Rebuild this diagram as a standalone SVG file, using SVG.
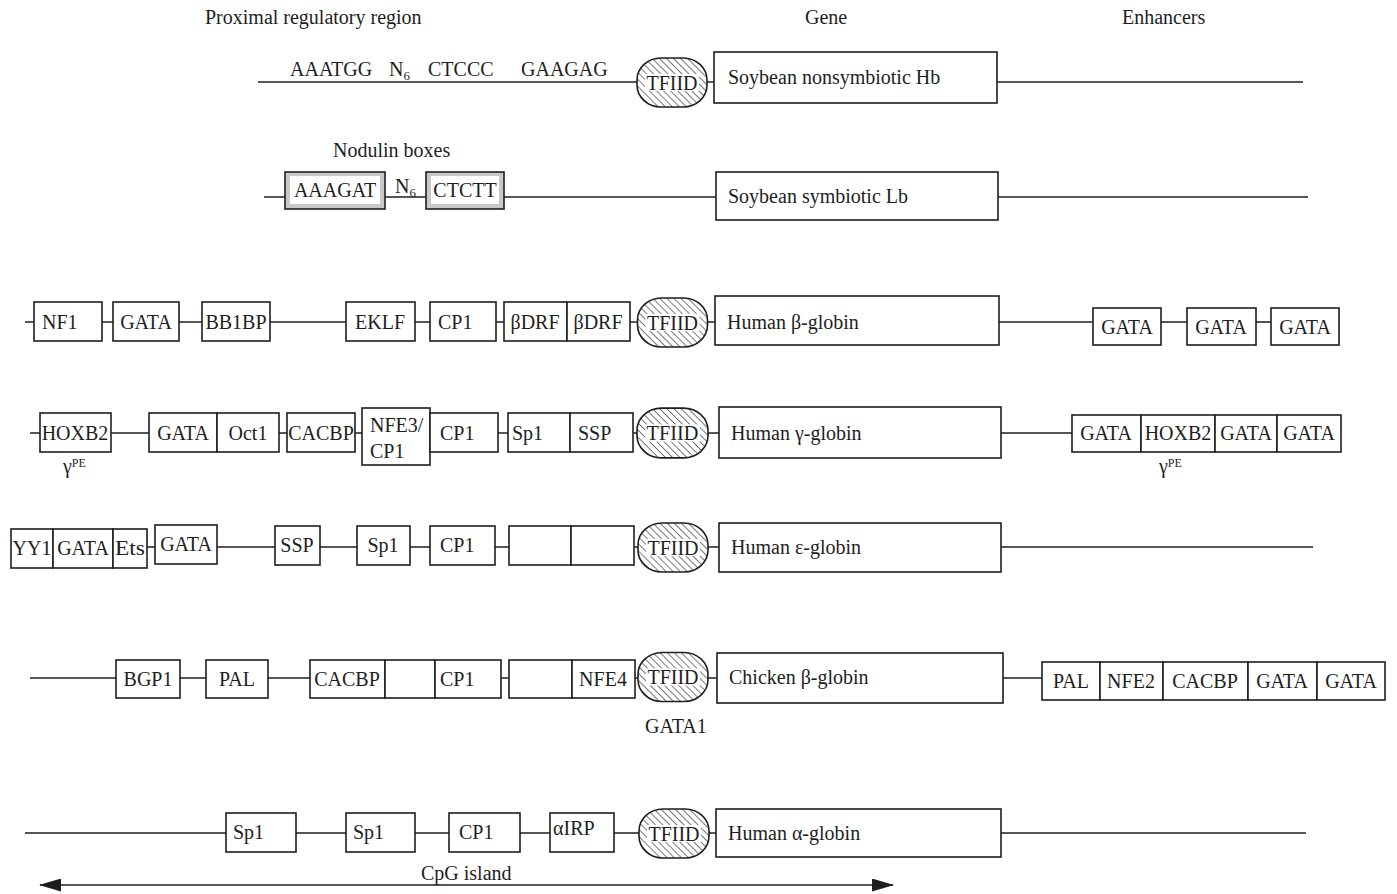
<svg xmlns="http://www.w3.org/2000/svg" width="1397" height="894" viewBox="0 0 1397 894">
<defs>
<style>
text{font-family:"Liberation Serif","Times New Roman",serif;font-size:20px;fill:#1e1e1e}
.m{text-anchor:middle}
.ln{stroke:#1e1e1e;stroke-width:1.6;fill:none}
.bx{fill:#fff;stroke:#1e1e1e;stroke-width:1.6}
.gb{fill:#c8c8c8;stroke:#1e1e1e;stroke-width:1.6}
.tf{fill:url(#hatch);stroke:#1e1e1e;stroke-width:1.6}
.sub{font-size:13px}
</style>
<pattern id="hatch" width="5" height="5" patternUnits="userSpaceOnUse" patternTransform="rotate(-45)">
<rect width="5" height="5" fill="#fff"/>
<line x1="0" y1="0" x2="0" y2="5" stroke="#333" stroke-width="1.3"/>
</pattern>
<marker id="ah" viewBox="0 0 22 13" refX="21" refY="6.5" markerWidth="22" markerHeight="13" markerUnits="userSpaceOnUse" orient="auto-start-reverse">
<path d="M0,0 L22,6.5 L0,13 Z" fill="#1e1e1e"/>
</marker>
<symbol id="tfiid" viewBox="0 0 70 49" overflow="visible">
<rect x="0" y="0" width="70" height="49" rx="24" ry="22" class="tf"/>
<rect x="8" y="16" width="54" height="17" fill="#fff"/>
<text x="35" y="31.5" class="m">TFIID</text>
</symbol>
</defs>
<rect width="1397" height="894" fill="#fff"/>

<g id="headers">
<text x="205" y="24">Proximal regulatory region</text>
<text x="805" y="24">Gene</text>
<text x="1122" y="24">Enhancers</text>
</g>

<g id="connectors">
<line class="ln" x1="258" y1="82" x2="1303" y2="82"/>
<line class="ln" x1="264" y1="197" x2="1308" y2="197"/>
<line class="ln" x1="25" y1="322" x2="1271" y2="322"/>
<line class="ln" x1="30" y1="433" x2="1072" y2="433"/>
<line class="ln" x1="147" y1="547" x2="1313" y2="547"/>
<line class="ln" x1="30" y1="678" x2="1042" y2="678"/>
<line class="ln" x1="25" y1="833" x2="1306" y2="833"/>
<line class="ln" x1="40" y1="885" x2="893" y2="885" stroke-width="2.6" marker-start="url(#ah)" marker-end="url(#ah)"/>
</g>

<g id="row1">
<text x="290" y="76">AAATGG</text>
<text x="389" y="76">N<tspan class="sub" dy="4">6</tspan></text>
<text x="428" y="76">CTCCC</text>
<text x="521" y="76">GAAGAG</text>
<use href="#tfiid" x="637" y="58" width="70" height="49"/>
<g id="gene-hb"><rect class="bx" x="714" y="52" width="283" height="51"/><text x="728" y="84">Soybean nonsymbiotic Hb</text></g>
</g>

<g id="row2">
<text x="333" y="157">Nodulin boxes</text>
<g id="nod1"><rect class="gb" x="285" y="172" width="100" height="37"/><rect x="290" y="176" width="90" height="28" fill="#fff"/><text x="335" y="197" class="m">AAAGAT</text></g>
<text x="395" y="193">N<tspan class="sub" dy="4">6</tspan></text>
<g id="nod2"><rect class="gb" x="426" y="172" width="78" height="37"/><rect x="431" y="176" width="68" height="28" fill="#fff"/><text x="465" y="197" class="m">CTCTT</text></g>
<g id="gene-lb"><rect class="bx" x="716" y="172" width="282" height="48"/><text x="728" y="203">Soybean symbiotic Lb</text></g>
</g>

<g id="row3">
<g><rect class="bx" x="34" y="302" width="68" height="39"/><text x="42" y="329">NF1</text></g>
<g><rect class="bx" x="113" y="302" width="66" height="39"/><text x="146" y="329" class="m">GATA</text></g>
<g><rect class="bx" x="202" y="302" width="68" height="39"/><text x="236" y="329" class="m">BB1BP</text></g>
<g><rect class="bx" x="346" y="302" width="69" height="39"/><text x="380" y="329" class="m">EKLF</text></g>
<g><rect class="bx" x="430" y="302" width="66" height="39"/><text x="438" y="329">CP1</text></g>
<g><rect class="bx" x="504" y="302" width="63" height="39"/><text x="535" y="329" class="m">βDRF</text></g>
<g><rect class="bx" x="567" y="302" width="63" height="39"/><text x="598" y="329" class="m">βDRF</text></g>
<use href="#tfiid" x="637" y="298" width="71" height="49"/>
<g id="gene-hbeta"><rect class="bx" x="715" y="296" width="284" height="49"/><text x="727" y="329">Human β-globin</text></g>
<g><rect class="bx" x="1093" y="308" width="68" height="37"/><text x="1127" y="334" class="m">GATA</text></g>
<g><rect class="bx" x="1187" y="308" width="69" height="37"/><text x="1221" y="334" class="m">GATA</text></g>
<g><rect class="bx" x="1271" y="308" width="68" height="37"/><text x="1305" y="334" class="m">GATA</text></g>
</g>

<g id="row4">
<g><rect class="bx" x="40" y="413" width="71" height="39"/><text x="75" y="440" class="m">HOXB2</text></g>
<text x="63" y="473">γ<tspan font-size="12" dy="-6">PE</tspan></text>
<g><rect class="bx" x="149" y="413" width="68" height="39"/><text x="183" y="440" class="m">GATA</text></g>
<g><rect class="bx" x="217" y="413" width="62" height="39"/><text x="248" y="440" class="m">Oct1</text></g>
<g><rect class="bx" x="287" y="413" width="68" height="39"/><text x="321" y="440" class="m">CACBP</text></g>
<g><rect class="bx" x="362" y="408" width="68" height="57"/><text x="370" y="432">NFE3/</text><text x="370" y="458">CP1</text></g>
<g><rect class="bx" x="430" y="413" width="68" height="39"/><text x="440" y="440">CP1</text></g>
<g><rect class="bx" x="508" y="413" width="62" height="39"/><text x="512" y="440">Sp1</text></g>
<g><rect class="bx" x="570" y="413" width="63" height="39"/><text x="578" y="440">SSP</text></g>
<use href="#tfiid" x="637" y="408" width="71" height="50"/>
<g id="gene-hgamma"><rect class="bx" x="719" y="407" width="282" height="51"/><text x="731" y="440">Human γ-globin</text></g>
<g><rect class="bx" x="1072" y="415" width="69" height="37"/><text x="1106" y="440" class="m">GATA</text></g>
<g><rect class="bx" x="1141" y="415" width="74" height="37"/><text x="1178" y="440" class="m">HOXB2</text></g>
<g><rect class="bx" x="1215" y="415" width="62" height="37"/><text x="1246" y="440" class="m">GATA</text></g>
<g><rect class="bx" x="1277" y="415" width="64" height="37"/><text x="1309" y="440" class="m">GATA</text></g>
<text x="1159" y="473">γ<tspan font-size="12" dy="-6">PE</tspan></text>
</g>

<g id="row5">
<g><rect class="bx" x="11" y="529" width="42" height="39"/><text x="32" y="555" class="m">YY1</text></g>
<g><rect class="bx" x="53" y="529" width="60" height="39"/><text x="83" y="555" class="m">GATA</text></g>
<g><rect class="bx" x="113" y="529" width="34" height="39"/><text x="130" y="555" class="m" textLength="30" lengthAdjust="spacingAndGlyphs">Ets</text></g>
<g><rect class="bx" x="155" y="525" width="62" height="39"/><text x="186" y="551" class="m">GATA</text></g>
<g><rect class="bx" x="275" y="526" width="45" height="39"/><text x="297" y="552" class="m">SSP</text></g>
<g><rect class="bx" x="357" y="526" width="53" height="39"/><text x="383" y="552" class="m">Sp1</text></g>
<g><rect class="bx" x="430" y="526" width="65" height="39"/><text x="440" y="552">CP1</text></g>
<g><rect class="bx" x="509" y="526" width="62" height="39"/></g>
<g><rect class="bx" x="571" y="526" width="63" height="39"/></g>
<use href="#tfiid" x="638" y="523" width="70" height="49"/>
<g id="gene-heps"><rect class="bx" x="719" y="523" width="282" height="49"/><text x="731" y="554">Human ε-globin</text></g>
</g>

<g id="row6">
<g><rect class="bx" x="116" y="660" width="64" height="38"/><text x="148" y="686" class="m">BGP1</text></g>
<g><rect class="bx" x="206" y="660" width="62" height="38"/><text x="237" y="686" class="m">PAL</text></g>
<g><rect class="bx" x="310" y="660" width="75" height="38"/><text x="347" y="686" class="m">CACBP</text></g>
<g><rect class="bx" x="385" y="660" width="50" height="38"/></g>
<g><rect class="bx" x="435" y="660" width="66" height="38"/><text x="440" y="686">CP1</text></g>
<g><rect class="bx" x="509" y="660" width="63" height="38"/></g>
<g><rect class="bx" x="572" y="660" width="63" height="38"/><text x="603" y="686" class="m">NFE4</text></g>
<use href="#tfiid" x="638" y="652" width="70" height="50"/>
<text x="645" y="733">GATA1</text>
<g id="gene-chb"><rect class="bx" x="717" y="653" width="286" height="50"/><text x="729" y="684">Chicken β-globin</text></g>
<g><rect class="bx" x="1042" y="662" width="58" height="38"/><text x="1071" y="688" class="m">PAL</text></g>
<g><rect class="bx" x="1100" y="662" width="63" height="38"/><text x="1131" y="688" class="m">NFE2</text></g>
<g><rect class="bx" x="1163" y="662" width="85" height="38"/><text x="1205" y="688" class="m">CACBP</text></g>
<g><rect class="bx" x="1248" y="662" width="69" height="38"/><text x="1282" y="688" class="m">GATA</text></g>
<g><rect class="bx" x="1317" y="662" width="68" height="38"/><text x="1351" y="688" class="m">GATA</text></g>
</g>

<g id="row7">
<g><rect class="bx" x="226" y="813" width="70" height="39"/><text x="233" y="839">Sp1</text></g>
<g><rect class="bx" x="346" y="813" width="69" height="39"/><text x="353" y="839">Sp1</text></g>
<g><rect class="bx" x="449" y="813" width="71" height="39"/><text x="459" y="839">CP1</text></g>
<g><rect class="bx" x="550" y="813" width="64" height="39"/><text x="553" y="835">αIRP</text></g>
<use href="#tfiid" x="639" y="809" width="70" height="49"/>
<g id="gene-ha"><rect class="bx" x="716" y="809" width="285" height="48"/><text x="728" y="840">Human α-globin</text></g>
<text x="421" y="880">CpG island</text>
</g>
</svg>
